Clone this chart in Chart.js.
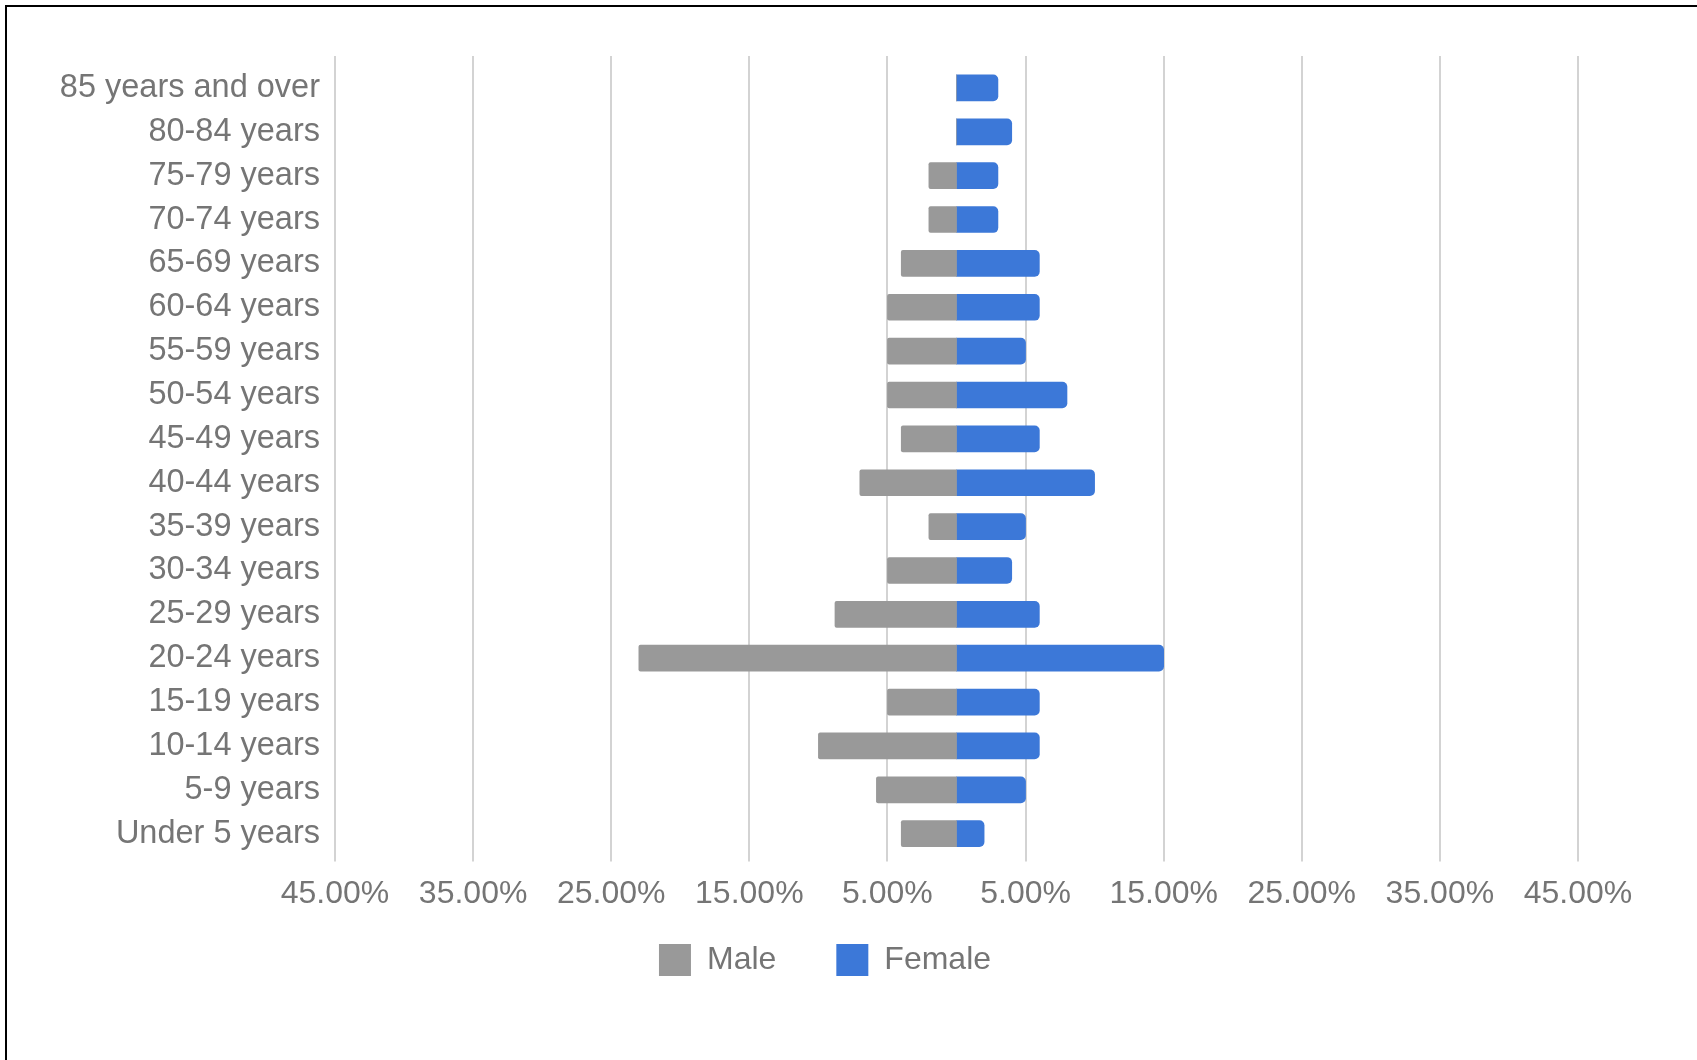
<!DOCTYPE html>
<html>
<head>
<meta charset="utf-8">
<script src="https://cdn.jsdelivr.net/npm/chart.js@4"></script>
<style>
html,body{margin:0;padding:0;background:#fff;width:1697px;height:1060px;overflow:hidden;}
#wrap{position:absolute;left:0;top:0;width:1658px;height:1060px;}
#frame{position:absolute;left:5px;top:5px;right:0;bottom:0;border-left:2px solid #000;border-top:2px solid #000;pointer-events:none;}
</style>
</head>
<body>
<div id="wrap"><canvas id="c" width="1658" height="1060"></canvas></div>
<div id="frame"></div>
<script>
const categories = [
  '85 years and over','80-84 years','75-79 years','70-74 years','65-69 years',
  '60-64 years','55-59 years','50-54 years','45-49 years','40-44 years',
  '35-39 years','30-34 years','25-29 years','20-24 years','15-19 years',
  '10-14 years','5-9 years','Under 5 years'
];
const seriesNames = ['Male','Female'];
const maleValues   = [0, 0, 2, 2, 4, 5, 5, 5, 4, 7, 2, 5, 8.8, 23, 5, 10, 5.8, 4];
const femaleValues = [3, 4, 3, 3, 6, 6, 5, 8, 6, 10, 5, 4, 6, 15, 6, 6, 5, 2];
const tickValues = [-45, -35, -25, -15, -5, 5, 15, 25, 35, 45];
const tickLabels = ['45.00%','35.00%','25.00%','15.00%','5.00%','5.00%','15.00%','25.00%','35.00%','45.00%'];

const MALE_COLOR = '#999999';
const FEMALE_COLOR = '#3c78d8';
const TEXT_COLOR = '#757575';
const GRID_COLOR = '#d3d3d3';
const FAMILY = '"Liberation Sans", Arial, sans-serif';
const FONT = {family: FAMILY, size: 32};
const YFONT = {family: FAMILY, size: 32.5};
const LEGEND_DX = 36;
const LEGEND_DY = -48;

const gridPlugin = {
  id: 'extGrid',
  beforeDatasetsDraw(chart) {
    const {ctx, chartArea, scales: {x}} = chart;
    ctx.save();
    ctx.strokeStyle = GRID_COLOR;
    ctx.lineWidth = 2;
    x.ticks.forEach(t => {
      const px = Math.round(x.getPixelForValue(t.value));
      ctx.beginPath();
      ctx.moveTo(px, chartArea.top - 10);
      ctx.lineTo(px, chartArea.bottom + 6);
      ctx.stroke();
    });
    ctx.restore();
  }
};

const legendShift = {
  id: 'legendShift',
  afterLayout(chart) {
    const lg = chart.legend;
    if (!lg) return;
    lg.left += LEGEND_DX; lg.right += LEGEND_DX;
    lg.top += LEGEND_DY; lg.bottom += LEGEND_DY;
  }
};

new Chart(document.getElementById('c'), {
  type: 'bar',
  data: {
    labels: categories,
    datasets: [
      {label: seriesNames[0], data: maleValues.map(v => -v), backgroundColor: MALE_COLOR,
       borderWidth: 0, borderRadius: 2, barThickness: 26},
      {label: seriesNames[1], data: femaleValues, backgroundColor: FEMALE_COLOR,
       borderWidth: 0, borderRadius: 5, barThickness: 26}
    ]
  },
  options: {
    indexAxis: 'y',
    responsive: false,
    animation: false,
    devicePixelRatio: 1,
    layout: {padding: {left: 0, right: 80, top: 66, bottom: 26}},
    plugins: {
      tooltip: {enabled: false},
      legend: {
        position: 'bottom',
        labels: {boxWidth: 32, boxHeight: 32, padding: 60, color: TEXT_COLOR, font: FONT}
      }
    },
    scales: {
      x: {
        type: 'linear', min: -45, max: 45, stacked: true,
        afterBuildTicks: s => { s.ticks = tickValues.map(v => ({value: v})); },
        grid: {display: false, drawTicks: false},
        border: {display: false},
        ticks: {
          autoSkip: false, maxRotation: 0, padding: 19, color: TEXT_COLOR, font: FONT,
          callback: v => tickLabels[tickValues.indexOf(v)]
        }
      },
      y: {
        type: 'category', stacked: true,
        afterFit: s => { s.width = 335; },
        grid: {display: false, drawTicks: false},
        border: {display: false},
        ticks: {padding: 15, color: TEXT_COLOR, font: YFONT, autoSkip: false}
      }
    }
  },
  plugins: [gridPlugin, legendShift]
});
</script>
</body>
</html>
